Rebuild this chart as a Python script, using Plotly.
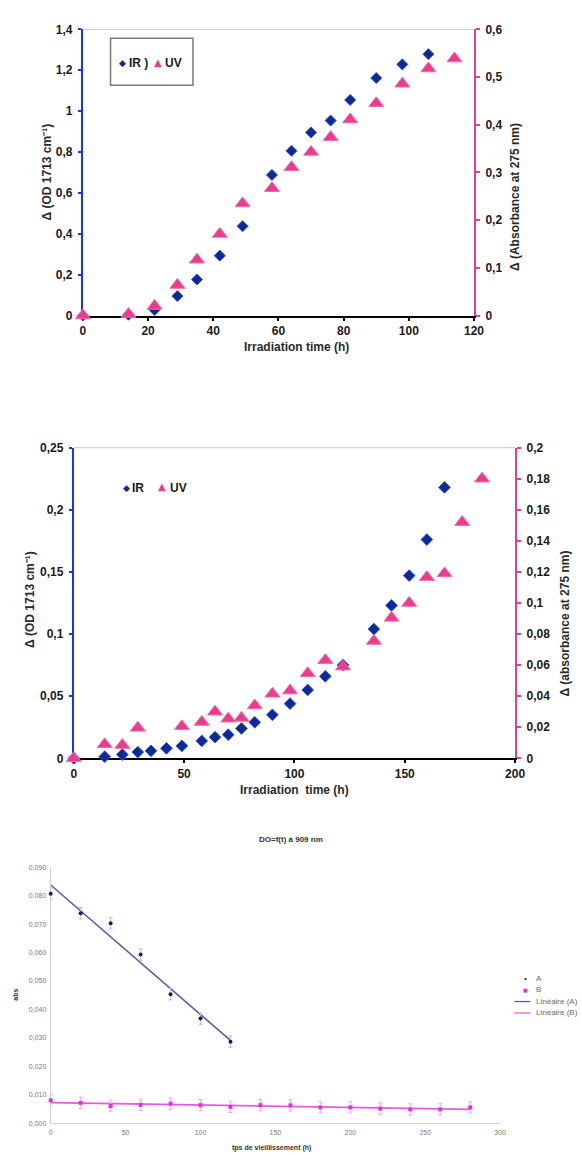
import numpy as np
import plotly.graph_objects as go

# ---------------- data ----------------
# Panel 1
p1_time_ir = [0, 14, 22, 29, 35, 42, 49, 58, 64, 70, 76, 82, 90, 98, 106]
p1_ir = [0.0, 0.004, 0.027, 0.095, 0.176, 0.293, 0.437, 0.688, 0.806, 0.896, 0.954, 1.055, 1.162, 1.229, 1.279]
p1_time_uv = [0, 14, 22, 29, 35, 42, 49, 58, 64, 70, 76, 82, 90, 98, 106, 114]
p1_uv = [0.0, 0.003, 0.020, 0.064, 0.117, 0.171, 0.235, 0.267, 0.311, 0.343, 0.374, 0.411, 0.445, 0.486, 0.518, 0.539]
p1_xticks = [0, 20, 40, 60, 80, 100, 120]
p1_yticks = [0, 0.2, 0.4, 0.6, 0.8, 1.0, 1.2, 1.4]
p1_ylabels = ["0", "0,2", "0,4", "0,6", "0,8", "1", "1,2", "1,4"]
p1_y2ticks = [0, 0.1, 0.2, 0.3, 0.4, 0.5, 0.6]
p1_y2labels = ["0", "0,1", "0,2", "0,3", "0,4", "0,5", "0,6"]

# Panel 2
p2_time_ir = [0, 14, 22, 29, 35, 42, 49, 58, 64, 70, 76, 82, 90, 98, 106, 114, 122, 136, 144, 152, 160, 168]
p2_ir = [0.0, 0.0013, 0.003, 0.005, 0.006, 0.008, 0.010, 0.014, 0.017, 0.019, 0.024, 0.029, 0.035, 0.044,
         0.055, 0.066, 0.075, 0.104, 0.123, 0.147, 0.176, 0.218]
p2_time_uv = [0, 14, 22, 29, 49, 58, 64, 70, 76, 82, 90, 98, 106, 114, 122, 136, 144, 152, 160, 168, 176, 185]
p2_uv = [0.0, 0.009, 0.0085, 0.0196, 0.0206, 0.0234, 0.030, 0.0255, 0.026, 0.034, 0.0415, 0.0436, 0.0547,
         0.0632, 0.059, 0.0755, 0.0904, 0.100, 0.1166, 0.119, 0.152, 0.180]
p2_xticks = [0, 50, 100, 150, 200]
p2_yticks = [0, 0.05, 0.1, 0.15, 0.2, 0.25]
p2_ylabels = ["0", "0,05", "0,1", "0,15", "0,2", "0,25"]
p2_y2ticks = [0, 0.02, 0.04, 0.06, 0.08, 0.1, 0.12, 0.14, 0.16, 0.18, 0.2]
p2_y2labels = ["0", "0,02", "0,04", "0,06", "0,08", "0,1", "0,12", "0,14", "0,16", "0,18", "0,2"]

# Panel 3
p3_time_a = [0, 20, 40, 60, 80, 100, 120]
p3_a = [0.0807, 0.0738, 0.0703, 0.0593, 0.0454, 0.0368, 0.0287]
p3_time_b = [0, 20, 40, 60, 80, 100, 120, 140, 160, 180, 200, 220, 240, 260, 280]
p3_b = [0.0081, 0.0072, 0.0061, 0.0065, 0.0069, 0.0064, 0.0058, 0.0064, 0.0063, 0.0056, 0.0056,
        0.0052, 0.0049, 0.0049, 0.0056]
p3_err = 0.002
p3_xticks = [0, 50, 100, 150, 200, 250, 300]
p3_yticks = [0, 0.01, 0.02, 0.03, 0.04, 0.05, 0.06, 0.07, 0.08, 0.09]
p3_ylabels = ["0,000", "0,010", "0,020", "0,030", "0,040", "0,050", "0,060", "0,070", "0,080", "0,090"]

# ---------------- styling ----------------
W, H = 582, 1159
FONT = "Liberation Sans, Arial, sans-serif"
GLYPH_FONT = "DejaVu Sans"
NAVY = "#0E2A9A"
NAVY_EDGE = "#3555C8"
PINK = "#EE3A8C"
PINK_EDGE = "#F36AA8"
AXBLUE = "#1E32E6"
AXPINK = "#E0408E"
TXT = "#1A1A1A"
A_COL = "#1A1A5E"
B_COL = "#D936D6"
LA_COL = "#55609E"
LB_COL = "#E35BE0"


def px(x):
    return x / W


def py(y):
    return 1 - y / H


fig = go.Figure()

# Panel 1 traces
fig.add_trace(go.Scatter(x=p1_time_ir, y=p1_ir, mode="markers", name="IR )",
                         marker=dict(symbol="diamond", size=8.5, color=NAVY, line=dict(color=NAVY_EDGE, width=1)),
                         xaxis="x", yaxis="y", cliponaxis=False, showlegend=False))
fig.add_trace(go.Scatter(x=p1_time_uv, y=p1_uv, mode="markers", name="UV",
                         marker=dict(symbol="triangle-up", size=13, color=PINK, line=dict(color=PINK_EDGE, width=1)),
                         xaxis="x", yaxis="y2", cliponaxis=False, showlegend=False))

# Panel 2 traces
fig.add_trace(go.Scatter(x=p2_time_ir, y=p2_ir, mode="markers", name="IR",
                         marker=dict(symbol="diamond", size=9, color=NAVY, line=dict(color=NAVY_EDGE, width=1)),
                         xaxis="x2", yaxis="y3", cliponaxis=False, showlegend=False))
fig.add_trace(go.Scatter(x=p2_time_uv, y=p2_uv, mode="markers", name="UV",
                         marker=dict(symbol="triangle-up", size=13, color=PINK, line=dict(color=PINK_EDGE, width=1)),
                         xaxis="x2", yaxis="y4", cliponaxis=False, showlegend=False))

# Panel 3 traces (linear trendlines fitted to the data)
ka, ba = np.polyfit(p3_time_a, p3_a, 1)
kb, bb = np.polyfit(p3_time_b, p3_b, 1)
xa = [p3_time_a[0], p3_time_a[-1]]
xb = [p3_time_b[0], p3_time_b[-1]]
fig.add_trace(go.Scatter(x=xa, y=[ka * v + ba for v in xa], mode="lines", name="Linéaire (A)",
                         line=dict(color=LA_COL, width=1.6), xaxis="x3", yaxis="y5", showlegend=False))
fig.add_trace(go.Scatter(x=xb, y=[kb * v + bb for v in xb], mode="lines", name="Linéaire (B)",
                         line=dict(color=LB_COL, width=1.6), xaxis="x3", yaxis="y5", showlegend=False))
fig.add_trace(go.Scatter(x=p3_time_a, y=p3_a, mode="markers", name="A",
                         marker=dict(symbol="circle", size=4, color=A_COL),
                         error_y=dict(type="constant", value=p3_err, color="#AFC0EA", thickness=1, width=2),
                         xaxis="x3", yaxis="y5", cliponaxis=False, showlegend=False))
fig.add_trace(go.Scatter(x=p3_time_b, y=p3_b, mode="markers", name="B",
                         marker=dict(symbol="square", size=4, color=B_COL),
                         error_y=dict(type="constant", value=p3_err, color="#F0A8EE", thickness=1, width=2),
                         xaxis="x3", yaxis="y5", cliponaxis=False, showlegend=False))

tickfont_b = dict(family=FONT, size=12, color=TXT, weight="bold")
tickfont_s = dict(family=FONT, size=7, color="#7A7A7A")

fig.update_layout(
    width=W, height=H, margin=dict(l=0, r=0, t=0, b=0),
    paper_bgcolor="white", plot_bgcolor="white", showlegend=False,
    # Panel 1
    xaxis=dict(domain=[px(81.7), px(481.8)], range=[0, 120], anchor="y",
               tickvals=p1_xticks, ticks="outside", ticklen=3, tickcolor="black", tickwidth=1.5,
               showline=True, linecolor="black", linewidth=2, showgrid=False, zeroline=False,
               tickfont=tickfont_b, layer="below traces"),
    yaxis=dict(domain=[py(312.3), py(22.7)], range=[0, 1.4], anchor="x",
               tickvals=p1_yticks, ticktext=p1_ylabels, ticks="outside", ticklen=3, tickcolor=AXBLUE, tickwidth=1.5,
               showline=True, linecolor=AXBLUE, linewidth=2, showgrid=False, zeroline=False,
               tickfont=tickfont_b, layer="below traces", ticklabelstandoff=3),
    yaxis2=dict(range=[0, 0.6], overlaying="y", side="right", anchor="x",
                tickvals=p1_y2ticks, ticktext=p1_y2labels, ticks="outside", ticklen=4, tickcolor=AXPINK, tickwidth=1.5,
                showline=True, linecolor=AXPINK, linewidth=2, showgrid=False, zeroline=False,
                tickfont=tickfont_b, layer="below traces", ticklabelstandoff=3),
    # Panel 2
    xaxis2=dict(domain=[px(72.4), px(523.8)], range=[0, 200], anchor="y3",
                tickvals=p2_xticks, ticks="outside", ticklen=3, tickcolor="black", tickwidth=1.5,
                showline=True, linecolor="black", linewidth=2, showgrid=False, zeroline=False,
                tickfont=tickfont_b, layer="below traces"),
    yaxis3=dict(domain=[py(760.5), py(446)], range=[0, 0.25], anchor="x2",
                tickvals=p2_yticks, ticktext=p2_ylabels, ticks="outside", ticklen=3, tickcolor=AXBLUE, tickwidth=1.5,
                showline=True, linecolor=AXBLUE, linewidth=2, showgrid=False, zeroline=False,
                tickfont=tickfont_b, layer="below traces", ticklabelstandoff=3),
    yaxis4=dict(range=[0, 0.2], overlaying="y3", side="right", anchor="x2",
                tickvals=p2_y2ticks, ticktext=p2_y2labels, ticks="outside", ticklen=4, tickcolor=AXPINK, tickwidth=1.5,
                showline=True, linecolor=AXPINK, linewidth=2, showgrid=False, zeroline=False,
                tickfont=tickfont_b, layer="below traces", ticklabelstandoff=3),
    # Panel 3
    xaxis3=dict(domain=[px(48.8), px(508.5)], range=[0, 300], anchor="y5",
                tickvals=p3_xticks, ticks="", showline=True, linecolor="#D0D0D0", linewidth=1,
                showgrid=False, zeroline=False, tickfont=tickfont_s, layer="below traces", ticklabelstandoff=2),
    yaxis5=dict(domain=[py(1130), py(870.7)], range=[0, 0.09], anchor="x3",
                tickvals=p3_yticks, ticktext=p3_ylabels, ticks="", showline=True, linecolor="#D0D0D0", linewidth=1,
                showgrid=False, zeroline=False, tickfont=tickfont_s, layer="below traces", ticklabelstandoff=2),
)

# top borders of panels 1 and 2
fig.add_shape(type="line", xref="x", yref="y", x0=0, x1=120, y0=1.4, y1=1.4,
              line=dict(color="#9A9A9A", width=1))
fig.add_shape(type="line", xref="x2", yref="y3", x0=0, x1=200, y0=0.25, y1=0.25,
              line=dict(color="#9A9A9A", width=1))
# legend box panel 1
fig.add_shape(type="rect", xref="paper", yref="paper", x0=px(110), x1=px(194.3), y0=py(79.3), y1=py(31.7),
              line=dict(color="#7A7A7A", width=1.5), fillcolor="white")
# legend line glyphs panel 3
for yy, col in [(1006.7, LA_COL), (1018.3, LB_COL)]:
    fig.add_shape(type="line", xref="paper", yref="paper", x0=px(523), x1=px(539.5), y0=py(yy), y1=py(yy),
                  line=dict(color=col, width=1.3))

ann = []
bold_title = dict(family=FONT, size=12, color="#2A2A2A", weight="bold")
leg_txt = dict(family=FONT, size=12, color=TXT, weight="bold")
# Panel 1 titles
ann.append(dict(x=px(44.5), y=py(167), text="Δ (OD 1713 cm⁻¹)", textangle=-90, font=bold_title))
ann.append(dict(x=px(523), y=py(192), text="Δ (Absorbance at 275 nm)", textangle=-90, font=bold_title))
ann.append(dict(x=px(300.7), y=py(344), text="Irradiation time (h)", font=bold_title))
# Panel 1 legend
ann.append(dict(x=px(122), y=py(56.7), text="◆", font=dict(family=GLYPH_FONT, size=9, color=NAVY)))
ann.append(dict(x=px(127), y=py(56.7), text="IR )", xanchor="left", font=leg_txt))
ann.append(dict(x=px(159), y=py(55.7), text="▲", font=dict(family=GLYPH_FONT, size=10, color=PINK)))
ann.append(dict(x=px(163.5), y=py(56.7), text="UV", xanchor="left", font=leg_txt))
# Panel 2 titles
ann.append(dict(x=px(27.8), y=py(600), text="Δ (OD 1713 cm⁻¹)", textangle=-90, font=bold_title))
ann.append(dict(x=px(575), y=py(624), text="Δ (absorbance at 275 nm)", textangle=-90, font=bold_title))
ann.append(dict(x=px(298), y=py(793), text="Irradiation  time (h)", font=bold_title))
# Panel 2 legend
ann.append(dict(x=px(126), y=py(486.7), text="◆", font=dict(family=GLYPH_FONT, size=9, color=NAVY)))
ann.append(dict(x=px(130), y=py(486.7), text="IR", xanchor="left", font=leg_txt))
ann.append(dict(x=px(162.5), y=py(485.7), text="▲", font=dict(family=GLYPH_FONT, size=10, color=PINK)))
ann.append(dict(x=px(168.5), y=py(486.7), text="UV", xanchor="left", font=leg_txt))
# Panel 3 titles
ann.append(dict(x=px(295), y=py(843), text="DO=f(t) à 909 nm",
                font=dict(family=FONT, size=8, color="#333333", weight="bold")))
ann.append(dict(x=px(13), y=py(1000), text="abs", textangle=-90,
                font=dict(family=FONT, size=7, color="#333333", weight="bold")))
ann.append(dict(x=px(275), y=py(1155), text="tps de vieillissement (h)",
                font=dict(family=FONT, size=7, color="#333333", weight="bold")))
# Panel 3 legend
ann.append(dict(x=px(534.5), y=py(983.3), text="•", font=dict(family=FONT, size=8, color=A_COL)))
ann.append(dict(x=px(534.5), y=py(995), text="■", font=dict(family=GLYPH_FONT, size=5, color=B_COL)))
for yy, tx in [(983.3, "A"), (995.0, "B"), (1006.7, "Linéaire (A)"), (1018.3, "Linéaire (B)")]:
    ann.append(dict(x=px(542.7), y=py(yy), xanchor="left", text=tx,
                    font=dict(family=FONT, size=8, color="#6A6A6A")))

for a in ann:
    a.setdefault("xref", "paper")
    a.setdefault("yref", "paper")
    a.setdefault("showarrow", False)
    a.setdefault("xanchor", "center")
    a.setdefault("yanchor", "middle")
fig.update_layout(annotations=ann)

fig.write_html("out.html")
